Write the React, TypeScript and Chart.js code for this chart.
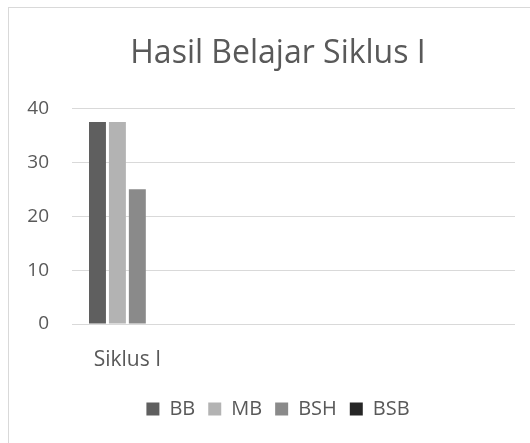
import React, { useEffect, useRef } from "react";
import { Chart, registerables } from "chart.js";

Chart.register(...registerables);

const categories = ["Siklus I", "", "", ""];
const seriesNames = ["BB", "MB", "BSH", "BSB"];
const bbValues = [37.5];
const mbValues = [37.5];
const bshValues = [25];
const bsbValues = [0];
const yMin = 0;
const yMax = 40;
const yStep = 10;
const titleText = "Hasil Belajar Siklus I";

const seriesColors = ["#5f5f5f", "#b3b3b3", "#8a8a8a", "#262626"];
const textColor = "#595959";
const gridColor = "#d9d9d9";
const fontFamily = "'Open Sans', 'DejaVu Sans', sans-serif";

export default function App() {
  const ref = useRef<HTMLCanvasElement | null>(null);

  useEffect(() => {
    if (!ref.current) return;
    const values = [bbValues, mbValues, bshValues, bsbValues];
    const chart = new Chart(ref.current, {
      type: "bar",
      data: {
        labels: categories,
        datasets: seriesNames.map((name, i) => ({
          label: name,
          data: values[i],
          backgroundColor: seriesColors[i],
          borderWidth: 0,
          categoryPercentage: 0.72,
          barPercentage: 0.85,
          yAxisID: "y",
        })),
      },
      options: {
        responsive: false,
        animation: false,
        layout: { padding: { left: 0, right: 0, top: 0, bottom: 14 } },
        plugins: {
          title: {
            display: true,
            text: titleText,
            color: textColor,
            font: { family: fontFamily, size: 32, weight: "normal" },
            padding: { top: 35, bottom: 35 },
          },
          legend: {
            position: "bottom",
            labels: {
              boxWidth: 13,
              boxHeight: 13,
              padding: 13,
              color: textColor,
              font: { family: fontFamily, size: 20 },
            },
          },
          tooltip: { enabled: false },
        },
        scales: {
          x: {
            grid: { display: false, drawTicks: false },
            border: { display: false },
            ticks: {
              color: textColor,
              padding: 23,
              maxRotation: 0,
              autoSkip: false,
              font: { family: fontFamily, size: 21 },
            },
            afterFit: (scale: any) => {
              scale.height = 62;
            },
          },
          y: {
            position: "left",
            min: yMin,
            max: yMax,
            grid: { color: gridColor, lineWidth: 1, drawTicks: false },
            border: { display: false },
            ticks: {
              stepSize: yStep,
              color: textColor,
              padding: 23,
              font: { family: fontFamily, size: 19 },
              callback: (v: any) => String(v),
            },
            afterFit: (scale: any) => {
              scale.width = 72;
            },
          },
          yRight: {
            position: "right",
            min: yMin,
            max: yMax,
            grid: { display: false, drawTicks: false },
            border: { display: false },
            ticks: { display: false },
            afterFit: (scale: any) => {
              scale.width = 41;
            },
          },
        },
      },
    });
    return () => chart.destroy();
  }, []);

  return (
    <div
      style={{
        position: "fixed",
        left: 0,
        top: 0,
        width: 530,
        height: 443,
        background: "#fff",
        overflow: "hidden",
      }}
    >
      <canvas ref={ref} width={556} height={443} style={{ position: "absolute", left: 0, top: 0 }} />
      <div
        style={{
          position: "absolute",
          left: 8,
          top: 7,
          width: 600,
          height: 600,
          borderTop: `1px solid ${gridColor}`,
          borderLeft: `1px solid ${gridColor}`,
          pointerEvents: "none",
        }}
      />
    </div>
  );
}
